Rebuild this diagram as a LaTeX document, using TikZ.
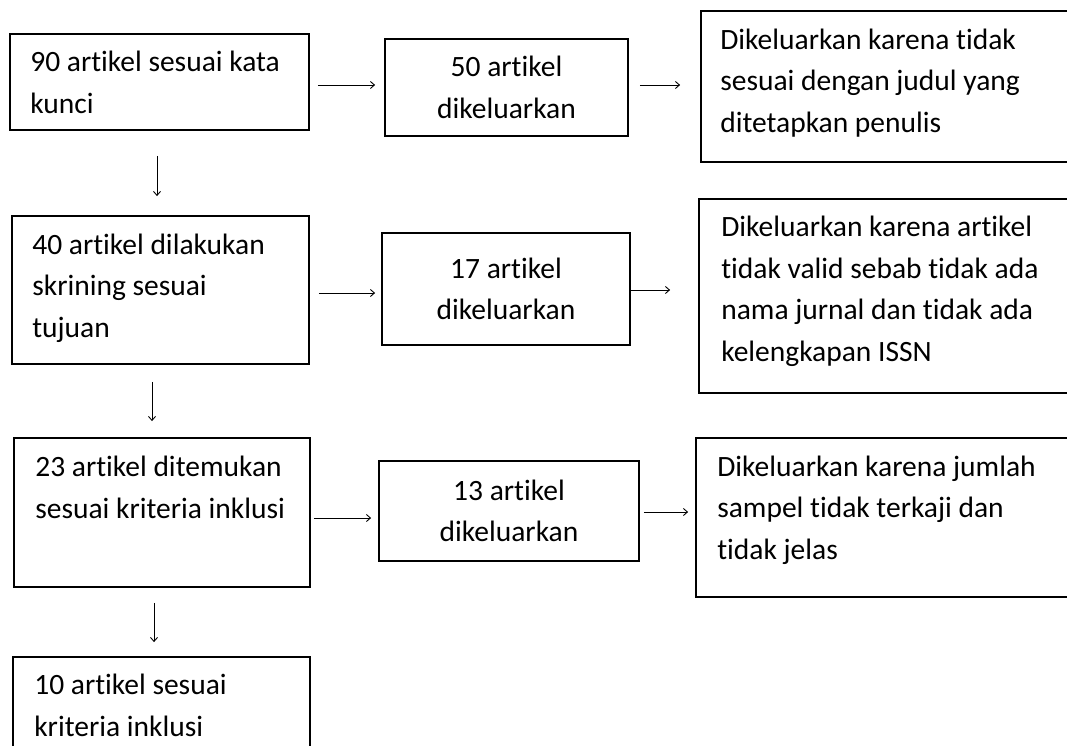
\documentclass[tikz,border=0pt]{standalone}
\usepackage{fontspec}
\setmainfont{Carlito}[Ligatures=CommonOff]
\usetikzlibrary{arrows.meta}

\tikzset{
  kotak/.style={draw, line width=1.8pt, inner sep=0pt},
  teks/.style={font=\fontsize{29.5}{41.5}\selectfont, align=left, inner sep=0pt},
  panah/.style={-{Straight Barb[length=4pt,width=7pt]}, line width=0.9pt}
}

\begin{document}
\begin{tikzpicture}[x=1pt,y=-1pt]
\clip (0,0) rectangle (1067,746);
% kolom kiri
\node[kotak, minimum width=299pt, minimum height=96pt] (n90) at (159.5,82) {};
\node[kotak, minimum width=297pt, minimum height=148pt] (n40) at (160.5,290) {};
\node[kotak, minimum width=296pt, minimum height=149pt] (n23) at (162,512.5) {};
\node[kotak, minimum width=297pt, minimum height=113pt] (n10) at (161.5,713.5) {};
% base = garis dasar baris terakhir
\node[teks, anchor=base west] (t90) at ([shift={(21pt,-80pt)}]n90.north west) {90 artikel sesuai kata\\kunci};
\node[teks, anchor=base west] (t40) at ([shift={(21pt,-122pt)}]n40.north west) {40 artikel dilakukan\\skrining sesuai\\tujuan};
\node[teks, anchor=base west] (t23) at ([shift={(22pt,-81pt)}]n23.north west) {23 artikel ditemukan\\sesuai kriteria inklusi};
\node[teks, anchor=base west] (t10) at ([shift={(22pt,-80pt)}]n10.north west) {10 artikel sesuai\\kriteria inklusi};
% kolom tengah
\node[kotak, teks, align=center, minimum width=243pt, minimum height=97pt] (n50) at (506.5,87.5) {50 artikel\\dikeluarkan};
\node[kotak, teks, align=center, minimum width=248pt, minimum height=112pt] (n17) at (506,289) {17 artikel\\dikeluarkan};
\node[kotak, teks, align=center, minimum width=260pt, minimum height=100pt] (n13) at (509,511) {13 artikel\\dikeluarkan};
% kolom kanan
\node[kotak, minimum width=379pt, minimum height=151pt] (alasan1) at (890.5,86.5) {};
\node[kotak, minimum width=381pt, minimum height=194pt] (alasan2) at (889.5,296) {};
\node[kotak, minimum width=384pt, minimum height=159pt] (alasan3) at (888,517.5) {};
\node[teks, anchor=base west] (ta1) at ([shift={(20pt,-122pt)}]alasan1.north west) {Dikeluarkan karena tidak\\sesuai dengan judul yang\\ditetapkan penulis};
\node[teks, anchor=base west] (ta2) at ([shift={(23pt,-163pt)}]alasan2.north west) {Dikeluarkan karena artikel\\tidak valid sebab tidak ada\\nama jurnal dan tidak ada\\kelengkapan ISSN};
\node[teks, anchor=base west] (ta3) at ([shift={(22pt,-122pt)}]alasan3.north west) {Dikeluarkan karena jumlah\\sampel tidak terkaji dan\\tidak jelas};
% panah ke bawah
\draw[panah, shorten <=25pt, shorten >=19pt] ([xshift=-2.5pt]n90.south) -- ([xshift=-2.5pt]n90.south |- n40.north);
\draw[panah, shorten <=17pt, shorten >=16pt] ([xshift=-8.5pt]n40.south) -- ([xshift=-8.5pt]n40.south |- n23.north);
\draw[panah, shorten <=15pt, shorten >=14pt] ([xshift=-8pt]n23.south) -- ([xshift=-8pt]n23.south |- n10.north);
% panah ke kanan
\draw[panah, shorten <=8pt, shorten >=9pt] ([yshift=-3pt]n90.east) -- ([yshift=-3pt]n90.east -| n50.west);
\draw[panah, shorten <=11pt, shorten >=20pt] ([yshift=2.5pt]n50.east) -- ([yshift=2.5pt]n50.east -| alasan1.west);
\draw[panah, shorten <=9pt, shorten >=6pt] ([yshift=-3pt]n40.east) -- ([yshift=-3pt]n40.east -| n17.west);
\draw[panah, shorten <=0pt, shorten >=28pt] ([yshift=-1pt]n17.east) -- ([yshift=-1pt]n17.east -| alasan2.west);
\draw[panah, shorten <=3pt, shorten >=7pt] ([yshift=-5.5pt]n23.east) -- ([yshift=-5.5pt]n23.east -| n13.west);
\draw[panah, shorten <=4pt, shorten >=7pt] ([yshift=-1pt]n13.east) -- ([yshift=-1pt]n13.east -| alasan3.west);
\end{tikzpicture}
\end{document}
